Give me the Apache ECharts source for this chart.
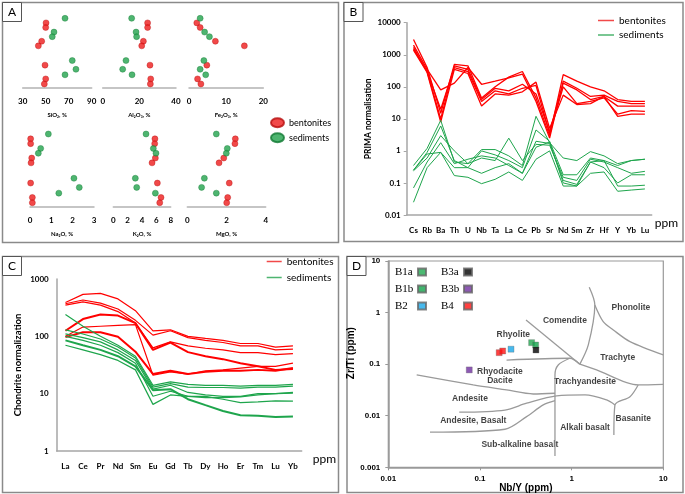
<!DOCTYPE html>
<html><head><meta charset="utf-8">
<script src="https://cdn.jsdelivr.net/npm/echarts@6/dist/echarts.min.js"></script>
<style>html,body{margin:0;padding:0;background:#fff}#c{width:685px;height:494px}</style>
</head><body><div id="c"></div>
<script>
// ---------------- Panel A (major oxides, wt %) ----------------
const benRows = [2, 3, 6, 7, 11.2, 14.2, 15.3];
const sedRows = [1, 4, 5, 10.2, 12.1, 13.3];
const benSiO2 = [50.3, 50, 46.5, 43.6, 49.4, 50, 48.8];
const sedSiO2 = [66.8, 57.2, 55.7, 73.1, 76.3, 66.8];
const benAl2O3 = [24.5, 24.5, 22.2, 21.3, 25.8, 26.2, 26];
const sedAl2O3 = [15.8, 18.2, 18.5, 12.7, 10.9, 16];
const benFe2O3 = [2.1, 3.0, 7.1, 14.9, 4.8, 2.3, 3.2];
const sedFe2O3 = [3.0, 4.2, 5.5, 4.0, 3.0, 4.5];
const benNa2O = [0.03, 0.03, 0.08, 0.05, 0.03, 0.11, 0.11];
const sedNa2O = [0.86, 0.5, 0.39, 2.06, 2.31, 1.35];
const benK2O = [5.8, 5.77, 5.86, 5.4, 6.14, 6.65, 6.47];
const sedK2O = [4.56, 5.58, 5.95, 3.07, 3.26, 5.86];
const benMgO = [2.45, 2.43, 1.86, 1.62, 2.14, 2.06, 2.01];
const sedMgO = [1.48, 2.04, 1.99, 0.87, 0.73, 1.48];
const siTicks = [30, 50, 70, 90];
const alTicks = [0, 20, 40];
const feTicks = [0, 10, 20];
const naTicks = [0, 1, 2, 3];
const kTicks = [0, 2, 4, 6, 8];
const mgTicks = [0, 2, 4];

// ---------------- Panel B (PRIMA normalised) ----------------
const bCats = ['Cs','Rb','Ba','Th','U','Nb','Ta','La','Ce','Pb','Sr','Nd','Sm','Zr','Hf','Y','Yb','Lu'];
const bBen1 = [3000, 400, 15, 500, 450, 45, 100, 200, 300, 45, 3, 240, 150, 100, 75, 40, 35, 35];
const bBen2 = [2000, 350, 80, 130, 400, 120, 150, 190, 250, 35, 2.5, 150, 90, 50, 55, 35, 30, 30];
const bBen3 = [1700, 300, 10, 450, 350, 40, 90, 75, 120, 60, 4, 130, 80, 40, 50, 25, 25, 25];
const bBen4 = [1500, 300, 20, 400, 300, 35, 75, 60, 90, 110, 3.5, 100, 30, 35, 45, 14, 18, 17];
const bBen5 = [1400, 280, 8, 350, 260, 25, 60, 55, 70, 140, 5, 55, 28, 30, 50, 12, 14, 14];
const bSed1 = [0.35, 1.2, 9, 0.45, 0.4, 1.1, 1.1, 0.7, 0.35, 12, 1.8, 0.6, 0.5, 0.95, 0.7, 0.4, 0.5, 0.55];
const bSed2 = [0.25, 0.9, 6, 0.5, 0.3, 1.0, 0.75, 0.5, 0.3, 4.5, 2.0, 0.18, 0.18, 0.6, 0.5, 0.35, 0.5, 0.55];
const bSed3 = [0.24, 0.6, 3, 1.0, 0.4, 0.6, 0.5, 2.5, 0.5, 1.6, 1.5, 0.15, 0.12, 0.55, 0.45, 0.3, 0.2, 0.23];
const bSed4 = [0.07, 0.45, 1.8, 0.4, 0.55, 0.7, 0.6, 0.35, 0.2, 2, 1.7, 0.12, 0.09, 0.45, 0.3, 0.1, 0.18, 0.18];
const bSed5 = [0.025, 0.3, 0.9, 0.3, 0.3, 0.2, 0.3, 0.4, 0.2, 1.3, 1.9, 0.1, 0.08, 0.45, 0.5, 0.08, 0.08, 0.085];
const bSed6 = [0.25, 0.8, 0.9, 0.17, 0.15, 0.095, 0.13, 0.22, 0.12, 0.55, 1.0, 0.08, 0.08, 0.2, 0.22, 0.055, 0.06, 0.065];
const bTickLabels = ['0.01','0.1','1','10','100','1000','10000'];

// ---------------- Panel C (chondrite normalised REE) ----------------
const cCats = ['La','Ce','Pr','Nd','Sm','Eu','Gd','Tb','Dy','Ho','Er','Tm','Lu','Yb'];
const cBen1 = [390, 540, 560, 450, 280, 125, 130, 100, 92, 85, 75, 75, 65, 68];
const cBen2 = [370, 430, 380, 300, 190, 105, 125, 95, 85, 78, 68, 68, 58, 60];
const cBen3 = [350, 400, 350, 270, 170, 63, 80, 68, 62, 58, 52, 52, 48, 50];
const cBen4 = [125, 200, 240, 230, 170, 58, 78, 53, 45, 40, 34, 30, 26, 27];
const cBen5 = [100, 145, 150, 155, 160, 21, 24, 22, 25, 26, 28, 30, 30, 34];
const cBen6 = [97, 118, 118, 98, 54, 22, 25, 22, 24, 25, 25, 26, 25, 28];
const cSed1 = [240, 150, 100, 70, 45, 14, 16, 14.5, 14, 14, 13.5, 14, 14, 14.5];
const cSed2 = [130, 110, 90, 65, 42, 13, 15, 13, 12.8, 12.8, 12.5, 13, 13, 13.5];
const cSed3 = [110, 95, 80, 58, 38, 12, 14, 10.5, 9.5, 9, 9, 10, 10, 10.5];
const cSed4 = [100, 85, 70, 52, 34, 9, 11, 9, 9, 8, 7, 7.2, 7.5, 7.4];
const cSed5 = [85, 70, 58, 45, 30, 11.5, 12, 8, 6.3, 5, 4.2, 4.1, 3.9, 4.0];
const cSed6 = [70, 58, 48, 38, 26, 6.5, 9.5, 9, 8.5, 8.5, 8.8, 9.5, 10, 10.2];
const cTickLabels = ['1','10','100','1000'];

// ---------------- Panel D (Winchester & Floyd) ----------------
const dB1a = [[0.366, 0.261]];
const dB1b = [[0.405, 0.235]];
const dB2 = [[0.218, 0.195]];
const dB3a = [[0.408, 0.188]];
const dB3b = [[0.0764, 0.0773]];
const dB4 = [[0.162, 0.167], [0.177, 0.18]];
const fRhyoliteBase = [[0.195,0.12],[0.957,0.13],[1.23,0.1]];
const fComendite = [[0.318,0.72],[1.23,0.1]];
const fPhonoliteLeft = [[1.556,3.09],[1.79,1.40],[1.52,0.236],[1.23,0.1]];
const fPhonoliteTrachyte = [[1.79,1.40],[2.21,0.667],[2.85,0.46],[4.33,0.273],[10,0.151]];
const fTrachyte = [[1.23,0.1],[1.87,0.0773],[5.32,0.0395],[10,0.0407]];
const fBasanite = [[5.32,0.0395],[4.33,0.0234],[2.97,0.0162],[2.89,0.00425]];
const fTrachyandLower = [[0.0594,0.0117],[0.1875,0.0129],[0.323,0.0175],[0.686,0.0242],[1.40,0.0253],[2.41,0.0202],[2.97,0.0162]];
const fDaciteVertical = [[0.957,0.13],[0.714,0.0964],[0.658,0.0618],[0.658,0.00166]];
const fAndesiteDacite = [[0.0204,0.0618],[0.0845,0.0395],[0.195,0.0316],[0.381,0.0264],[0.658,0.0273]];
const fAndesiteBasalt = [[0.0285,0.00479],[0.1875,0.00547],[0.323,0.0096],[0.49,0.0162],[0.658,0.0196]];
const dFieldNames = [
  ['Phonolite', 4.44, 1.27], ['Comendite', 0.845, 0.687], ['Rhyolite', 0.231, 0.368],
  ['Trachyte', 3.18, 0.134], ['Rhyodacite', 0.165, 0.0716], ['Dacite', 0.165, 0.0472],
  ['Trachyandesite', 1.40, 0.0458], ['Andesite', 0.0778, 0.0218], ['Andesite, Basalt', 0.0845, 0.00793],
  ['Basanite', 4.7, 0.00895], ['Alkali basalt', 1.40, 0.00588], ['Sub-alkaline basalt', 0.273, 0.00272]
];
const dxTickLabels = ['0.01','0.1','1','10'];
const dyTickLabels = ['0.001','0.01','0.1','1','10'];

// ---------------- build ----------------
const RED = '#ff0000', GREEN = '#1ea54c', AXIS = '#a6a6a6', FONT = 'Lato';
const grids = [], xAxes = [], yAxes = [], series = [];
function logFmt(labels, minExp) {
  return v => { const k = Math.round(Math.log10(v)) - minExp; return labels[k] !== undefined ? labels[k] : ''; };
}
function addA(left, width, top, height, min, max, ticks, name, benVals, sedVals) {
  const idx = grids.length;
  grids.push({left: left, top: top, width: width, height: height, containLabel: false, outerBoundsMode: 'none'});
  xAxes.push({gridIndex: idx, type: 'value', min: min, max: max,
    axisLine: {show: true, onZero: false, lineStyle: {color: '#b3b3b3', width: 1.5}},
    axisTick: {show: false}, splitLine: {show: false},
    axisLabel: {customValues: ticks, fontSize: 8, fontWeight: 'bold', color: '#000', margin: 9, fontFamily: FONT},
    name: name, nameLocation: 'middle', nameGap: 24,
    nameTextStyle: {fontSize: 6, fontWeight: 'bold', color: '#000', fontFamily: FONT}});
  yAxes.push({gridIndex: idx, type: 'value', min: 0, max: 16.2, inverse: true, show: false});
  series.push({type: 'scatter', name: 'bentonites', xAxisIndex: idx, yAxisIndex: idx, symbolSize: 6,
    itemStyle: {color: '#ee1c1c', borderColor: '#b81010', borderWidth: 0.5},
    data: benVals.map((v, i) => [v, benRows[i]])});
  series.push({type: 'scatter', name: 'sediments', xAxisIndex: idx, yAxisIndex: idx, symbolSize: 6,
    itemStyle: {color: '#22a24c', borderColor: '#137a34', borderWidth: 0.5},
    data: sedVals.map((v, i) => [v, sedRows[i]])});
}
addA(22.7, 69, 13.7, 74.4, 30, 90, siTicks, 'SiO₂, %', benSiO2, sedSiO2);
addA(102.7, 73.3, 13.7, 74.4, 0, 40, alTicks, 'Al₂O₃, %', benAl2O3, sedAl2O3);
addA(189, 74.3, 13.7, 74.4, 0, 20, feTicks, 'Fe₂O₃, %', benFe2O3, sedFe2O3);
addA(30, 64, 129.2, 77.9, 0, 3, naTicks, 'Na₂O, %', benNa2O, sedNa2O);
addA(113.3, 57.4, 129.2, 77.9, 0, 8, kTicks, 'K₂O, %', benK2O, sedK2O);
addA(187.3, 78.4, 129.2, 77.9, 0, 4, mgTicks, 'MgO, %', benMgO, sedMgO);

// Panel B
const bIdx = grids.length;
grids.push({left: 406.7, top: 22.7, width: 245, height: 192.3, containLabel: false, outerBoundsMode: 'none'});
xAxes.push({gridIndex: bIdx, type: 'category', data: bCats, boundaryGap: true,
  axisLine: {show: true, onZero: false, lineStyle: {color: AXIS, width: 1.5}}, axisTick: {show: false},
  axisLabel: {fontSize: 8, fontWeight: 'bold', color: '#000', margin: 11, interval: 0, fontFamily: FONT},
  name: 'ppm', nameLocation: 'end', nameGap: 3,
  nameTextStyle: {fontSize: 12, color: '#000', verticalAlign: 'top', padding: [2, 0, 0, 0], fontFamily: FONT}});
yAxes.push({gridIndex: bIdx, type: 'log', logBase: 10, min: 0.01, max: 10000,
  axisLine: {show: true, onZero: false, lineStyle: {color: AXIS, width: 1.5}},
  axisTick: {show: true, length: 3, lineStyle: {color: AXIS, width: 1}}, splitLine: {show: false},
  axisLabel: {fontSize: 8, fontWeight: 'bold', color: '#000', margin: 6, fontFamily: FONT, formatter: logFmt(bTickLabels, -2)},
  name: 'PRIMA normalisation', nameLocation: 'middle', nameRotate: 90, nameGap: 34,
  nameTextStyle: {fontSize: 8.5, fontWeight: 'bold', color: '#000', fontFamily: FONT}});
[bBen1, bBen2, bBen3, bBen4, bBen5].forEach(d => series.push({type: 'line', name: 'bentonites', xAxisIndex: bIdx, yAxisIndex: bIdx,
  symbol: 'none', color: RED, lineStyle: {width: 1.3, color: RED}, data: d}));
[bSed1, bSed2, bSed3, bSed4, bSed5, bSed6].forEach(d => series.push({type: 'line', name: 'sediments', xAxisIndex: bIdx, yAxisIndex: bIdx,
  symbol: 'none', color: GREEN, lineStyle: {width: 1, color: GREEN}, data: d}));

// Panel C
const cIdx = grids.length;
grids.push({left: 56.7, top: 279, width: 245, height: 172, containLabel: false, outerBoundsMode: 'none'});
xAxes.push({gridIndex: cIdx, type: 'category', data: cCats, boundaryGap: true,
  axisLine: {show: true, onZero: false, lineStyle: {color: AXIS, width: 1.5}}, axisTick: {show: false},
  axisLabel: {fontSize: 8, fontWeight: 'bold', color: '#000', margin: 11, interval: 0, fontFamily: FONT},
  name: 'ppm', nameLocation: 'end', nameGap: 11,
  nameTextStyle: {fontSize: 12, color: '#000', verticalAlign: 'top', padding: [2, 0, 0, 0], fontFamily: FONT}});
yAxes.push({gridIndex: cIdx, type: 'log', logBase: 10, min: 1, max: 1000,
  axisLine: {show: true, onZero: false, lineStyle: {color: AXIS, width: 1.5}},
  axisTick: {show: false}, splitLine: {show: false},
  axisLabel: {fontSize: 8, fontWeight: 'bold', color: '#000', margin: 8, fontFamily: FONT, formatter: logFmt(cTickLabels, 0)},
  name: 'Chondrite normalization', nameLocation: 'middle', nameRotate: 90, nameGap: 34,
  nameTextStyle: {fontSize: 9.5, fontWeight: 'bold', color: '#000', fontFamily: FONT}});
[cBen1, cBen2, cBen3, cBen4, cBen5, cBen6].forEach((d, i) => series.push({type: 'line', name: 'bentonites', xAxisIndex: cIdx, yAxisIndex: cIdx,
  symbol: 'none', color: RED, lineStyle: {width: (i === 3 || i === 5) ? 2 : 1.2, color: RED}, data: d}));
[cSed1, cSed2, cSed3, cSed4, cSed5, cSed6].forEach((d, i) => series.push({type: 'line', name: 'sediments', xAxisIndex: cIdx, yAxisIndex: cIdx,
  symbol: 'none', color: GREEN, lineStyle: {width: i === 4 ? 2 : 1.2, color: GREEN}, data: d}));

// Panel D
const dIdx = grids.length;
grids.push({left: 388.3, top: 261, width: 275, height: 206.3, containLabel: false, outerBoundsMode: 'none',
  show: true, borderColor: '#999', borderWidth: 1.2});
xAxes.push({gridIndex: dIdx, type: 'log', logBase: 10, min: 0.01, max: 10,
  axisLine: {show: true, onZero: false, lineStyle: {color: '#999', width: 1.5}},
  axisTick: {show: true, length: 3, lineStyle: {color: '#999'}}, splitLine: {show: false},
  axisLabel: {fontSize: 8, fontWeight: 'bold', color: '#000', margin: 7, fontFamily: 'Liberation Sans', formatter: logFmt(dxTickLabels, -2)},
  name: 'Nb/Y (ppm)', nameLocation: 'middle', nameGap: 13,
  nameTextStyle: {fontSize: 10, fontWeight: 'bold', color: '#000', fontFamily: 'Liberation Sans'}});
yAxes.push({gridIndex: dIdx, type: 'log', logBase: 10, min: 0.001, max: 10,
  axisLine: {show: true, onZero: false, lineStyle: {color: '#999', width: 1.5}},
  axisTick: {show: true, length: 3, lineStyle: {color: '#999'}}, splitLine: {show: false},
  axisLabel: {fontSize: 8, fontWeight: 'bold', color: '#000', margin: 8, fontFamily: 'Liberation Sans', formatter: logFmt(dyTickLabels, -3)},
  name: 'Zr/Ti (ppm)', nameLocation: 'middle', nameRotate: 90, nameGap: 27,
  nameTextStyle: {fontSize: 10, fontWeight: 'bold', color: '#000', fontFamily: 'Liberation Sans', padding: [0, 0, 0, 22]}});
[fRhyoliteBase, fComendite, fPhonoliteLeft, fPhonoliteTrachyte, fTrachyte, fBasanite, fTrachyandLower,
 fDaciteVertical, fAndesiteDacite, fAndesiteBasalt].forEach(d => series.push({type: 'line', name: 'field', xAxisIndex: dIdx, yAxisIndex: dIdx,
  symbol: 'none', silent: true, smooth: 0.3, lineStyle: {color: '#9a9a9a', width: 1.3}, data: d}));
series.push({type: 'scatter', name: 'fieldNames', xAxisIndex: dIdx, yAxisIndex: dIdx, symbolSize: 0, silent: true,
  label: {show: true, position: 'inside', formatter: '{b}', fontSize: 8.5, fontWeight: 'bold', color: '#111', fontFamily: 'Liberation Sans'},
  data: dFieldNames.map(f => ({name: f[0], value: [f[1], f[2]]}))});
const dSamples = [['B1a', dB1a, '#1fa84f'], ['B1b', dB1b, '#12a24a'], ['B2', dB2, '#19a8e8'],
  ['B3a', dB3a, '#000000'], ['B3b', dB3b, '#7030a0'], ['B4', dB4, '#ff1010']];
dSamples.forEach(s => series.push({type: 'scatter', name: s[0], xAxisIndex: dIdx, yAxisIndex: dIdx, symbol: 'rect', symbolSize: 6,
  itemStyle: {color: s[2], borderColor: '#666', borderWidth: 0.4}, data: s[1]}));

const ellipse = 'path://M0,50C0,22 22,0 50,0C78,0 100,22 100,50C100,78 78,100 50,100C22,100 0,78 0,50Z';
const dLegendText = {fontFamily: 'Liberation Serif', fontSize: 11, color: '#000', lineHeight: 14,
  rich: {t: {width: 18, align: 'left', fontFamily: 'Liberation Serif', fontSize: 11, color: '#000'}}};
const legends = [
  {left: 270, top: 117.2, padding: 0, orient: 'vertical', data: ['bentonites', 'sediments'], icon: ellipse, symbolKeepAspect: false,
   itemWidth: 13, itemHeight: 9, itemGap: 4, textStyle: {fontSize: 9, lineHeight: 11, color: '#000', fontFamily: FONT}},
  {left: 598, top: 14, padding: 0, orient: 'vertical', data: ['bentonites', 'sediments'], icon: 'rect', itemWidth: 16, itemHeight: 1.5,
   itemGap: 1.5, itemStyle: {borderWidth: 0}, textStyle: {fontSize: 10, lineHeight: 13, color: '#000', fontFamily: FONT}},
  {left: 266.7, top: 255, padding: 0, orient: 'vertical', data: ['bentonites', 'sediments'], icon: 'rect', itemWidth: 15, itemHeight: 1.5,
   itemGap: 3, itemStyle: {borderWidth: 0}, textStyle: {fontSize: 10, lineHeight: 13, color: '#000', fontFamily: FONT}},
  {left: 395, top: 265, padding: 0, orient: 'vertical', align: 'right', data: ['B1a', 'B1b', 'B2'], icon: 'rect', itemWidth: 8, itemHeight: 7,
   itemGap: 3, formatter: '{t|{name}}', textStyle: dLegendText},
  {left: 441, top: 265, padding: 0, orient: 'vertical', align: 'right', data: ['B3a', 'B3b', 'B4'], icon: 'rect', itemWidth: 8, itemHeight: 7,
   itemGap: 3, formatter: '{t|{name}}', textStyle: dLegendText}
];

function panel(x, y, w, h, letter) {
  return [
    {type: 'rect', shape: {x: x, y: y, width: w, height: h}, style: {fill: 'none', stroke: '#8a8a8a', lineWidth: 1.5}, silent: true},
    {type: 'rect', shape: {x: x, y: y, width: 19, height: 19}, style: {fill: '#fff', stroke: '#555', lineWidth: 1}, silent: true},
    {type: 'text', x: x + 9.5, y: y + 9.5, style: {text: letter, fontSize: 12, fill: '#000', fontFamily: FONT, align: 'center', verticalAlign: 'middle'}, silent: true}
  ];
}
const graphics = [].concat(panel(2.5, 2.5, 336, 240, 'A'), panel(344, 2.5, 339, 239, 'B'),
  panel(2.5, 256.5, 336, 236, 'C'), panel(347, 256.5, 336, 236, 'D'));

const chart = echarts.init(document.getElementById('c'), null, {renderer: 'canvas'});
chart.setOption({
  animation: false,
  backgroundColor: '#fff',
  textStyle: {fontFamily: FONT},
  grid: grids, xAxis: xAxes, yAxis: yAxes, series: series, legend: legends,
  graphic: {elements: graphics}
});
</script></body></html>
